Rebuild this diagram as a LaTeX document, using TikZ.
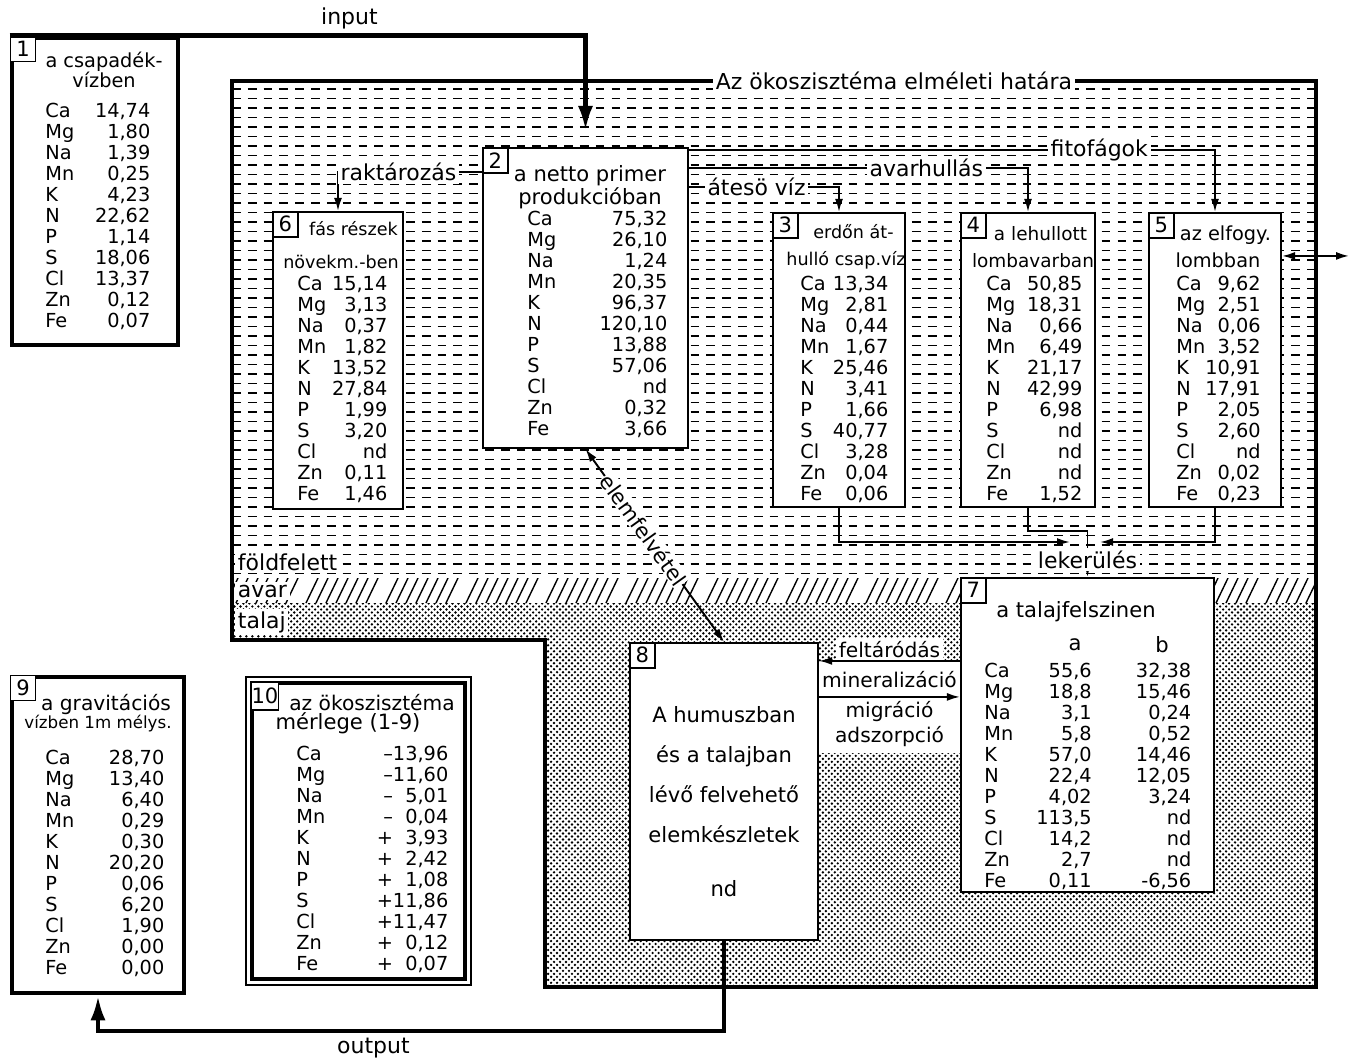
\documentclass[tikz,border=0pt]{standalone}
\usepackage{fontspec}
\setmainfont{DejaVu Sans}
\usepackage{tikz}
\usetikzlibrary{arrows.meta,positioning,fit,patterns,calc}
\newcommand{\ekoval}{\fontsize{11}{12}\selectfont}
\newcommand{\ekohead}{\fontsize{12}{13}\selectfont}
\newcommand{\ekolbl}{\fontsize{12.5}{14}\selectfont}
\newcommand{\ekorows}[2]{\begin{tabular*}{#1}{@{}l@{\extracolsep{\fill}}r@{}}#2\end{tabular*}}
\pgfdeclarepatternformonly{ekodots}{\pgfqpoint{-1pt}{-1pt}}{\pgfqpoint{4.4pt}{4.4pt}}{\pgfqpoint{3.4pt}{3.4pt}}{%
  \pgfpathcircle{\pgfqpoint{0.85pt}{0.85pt}}{0.75pt}%
  \pgfpathcircle{\pgfqpoint{2.55pt}{2.55pt}}{0.75pt}%
  \pgfusepath{fill}}
\tikzset{
  >={Latex[length=2.6mm,width=1.6mm]},
  ekobox/.style={draw,line width=1.2pt,fill=white,inner sep=0pt},
  ekoheavy/.style={ekobox,line width=2.6pt},
  ekonum/.style={draw,line width=.9pt,fill=white,inner sep=0pt,minimum width=5mm,minimum height=5mm,anchor=north west,font=\ekohead},
  ekottl/.style={align=center,font=\ekohead,inner sep=0pt},
  ekotab/.style={anchor=north west,inner sep=0pt,font=\ekoval},
  ekoflow/.style={->,line width=1.1pt},
  ekoboth/.style={<->,line width=1.1pt},
  ekobig/.style={-{Latex[length=5mm,width=3mm]},line width=2.6pt},
  ekolabel/.style={font=\ekolbl,fill=white,inner sep=1.5pt},
  ekodash/.style={line width=.6pt,dash pattern=on 5pt off 4pt},
}

\begin{document}
\begin{tikzpicture}[x=0.02cm,y=-0.02cm]
\useasboundingbox (0,0) rectangle (1350,1062);
% foldfelett
\begin{scope}
\clip (232,81) rectangle (1316,578);
\foreach \y in {89,98.5,...,574} \draw[ekodash] (232,\y) -- (1316,\y);
\end{scope}
% avar
\begin{scope}
\clip (232,578) rectangle (1316,603);
\foreach \g in {226,306,...,1316} \foreach \k in {0,10,...,60} \draw[line width=.8pt] (\g+\k,603) -- ++(12,-25);
\end{scope}
% talaj
\fill[pattern=ekodots] (232,603) -- (1316,603) -- (1316,987) -- (545,987) -- (545,640) -- (232,640) -- cycle;
\fill[white] (818,662) rectangle (961,753);
\draw[line width=2.3pt] (232,81) -- (1316,81) -- (1316,987) -- (545,987) -- (545,640) -- (232,640) -- cycle;
\node[ekolabel] (lim) at (894,81) {Az ökoszisztéma elméleti határa};
\node[ekolabel,anchor=west] (ff) at (235,562) {földfelett};
\node[ekolabel,anchor=west] (av) at (235,591) {avar};
\node[ekolabel,anchor=west] (tl) at (235,622) {talaj};

% boxes
\node[ekoheavy,fit={(12,38) (178,345)}] (b1) {};
\node[ekobox,fit={(483,148) (688,448)}] (b2) {};
\node[ekobox,fit={(773,213) (905,507)}] (b3) {};
\node[ekobox,fit={(961,213) (1095,507)}] (b4) {};
\node[ekobox,fit={(1149,213) (1281,507)}] (b5) {};
\node[ekobox,fit={(273,212) (403,509)}] (b6) {};
\node[ekobox,fit={(961,578) (1214,892)}] (b7) {};
\node[ekobox,fit={(630,643) (818,940)}] (b8) {};
\node[ekoheavy,fit={(12,677) (184,993)}] (b9) {};
\node[ekobox,line width=.6pt,fit={(246,677) (471,985)}] (b10o) {};
\node[ekoheavy,line width=1.8pt,fit={(252,683) (465,979)}] (b10) {};

\node[ekonum] (n1) at (b1.north west) {1};
\node[ekonum] (n2) at (b2.north west) {2};
\node[ekonum] (n3) at (b3.north west) {3};
\node[ekonum] (n4) at (b4.north west) {4};
\node[ekonum] (n5) at (b5.north west) {5};
\node[ekonum] (n6) at (b6.north west) {6};
\node[ekonum] (n7) at (b7.north west) {7};
\node[ekonum] (n8) at (b8.north west) {8};
\node[ekonum] (n9) at (b9.north west) {9};
\node[ekonum,minimum width=5.5mm,minimum height=5.5mm] (n10) at (b10.north west) {10};

% titles
\node[ekottl,font=\fontsize{11}{11.5}\selectfont] (h1) at (104,70) {a csapadék-\\vízben};
\node[ekottl] (h2) at (590,187) {a netto primer\\produkcióban};
\node[ekottl,font=\fontsize{10}{15.3}\selectfont] (h3) at (846,247) {\hspace*{3mm}erdőn át-\\hulló csap.víz};
\node[ekottl,font=\fontsize{10.5}{15.3}\selectfont] (h4) at (1033,247) {\hspace*{3mm}a lehullott\\lombavarban};
\node[ekottl,font=\fontsize{11}{15.3}\selectfont] (h5) at (1218,247) {\hspace*{3mm}az elfogy.\\lombban};
\node[ekottl,font=\fontsize{10}{19}\selectfont] (h6) at (341,245) {\hspace*{5mm}fás részek\\növekm.-ben};
\node[ekottl] (h7) at (1076,612) {a talajfelszinen};
\node[ekottl] (h7a) at (1075,645) {a};
\node[ekottl] (h7b) at (1162,645) {b};
\node[ekottl,font=\fontsize{12}{14}\selectfont,anchor=north] (h8) at (724,706) {A humuszban\\[8.7pt]és a talajban\\[8.7pt]lévő felvehető\\[8.7pt]elemkészletek\\[17pt]nd};
\node[ekottl,font=\fontsize{11.5}{12}\selectfont] (h9) at (106,705) {a gravitációs};
\node[ekottl,font=\fontsize{9.5}{10}\selectfont] (h9b) at (98,724) {vízben 1m mélys.};
\node[ekottl,font=\fontsize{11.5}{12}\selectfont] (h10) at (372,703) {az ökoszisztéma};
\node[ekottl] (h10b) at (348,723) {mérlege (1-9)};

% element tables
\node[ekotab] (t1) at (45,102) {\ekorows{2.1cm}{Ca&14,74\\Mg&1,80\\Na&1,39\\Mn&0,25\\K&4,23\\N&22,62\\P&1,14\\S&18,06\\Cl&13,37\\Zn&0,12\\Fe&0,07}};
\node[ekotab] (t2) at (527,210) {\ekorows{2.8cm}{Ca&75,32\\Mg&26,10\\Na&1,24\\Mn&20,35\\K&96,37\\N&120,10\\P&13,88\\S&57,06\\Cl&nd\\Zn&0,32\\Fe&3,66}};
\node[ekotab] (t6) at (297,275) {\ekorows{1.8cm}{Ca&15,14\\Mg&3,13\\Na&0,37\\Mn&1,82\\K&13,52\\N&27,84\\P&1,99\\S&3,20\\Cl&nd\\Zn&0,11\\Fe&1,46}};
\node[ekotab] (t3) at (800,275) {\ekorows{1.76cm}{Ca&13,34\\Mg&2,81\\Na&0,44\\Mn&1,67\\K&25,46\\N&3,41\\P&1,66\\S&40,77\\Cl&3,28\\Zn&0,04\\Fe&0,06}};
\node[ekotab] (t4) at (986,275) {\ekorows{1.92cm}{Ca&50,85\\Mg&18,31\\Na&0,66\\Mn&6,49\\K&21,17\\N&42,99\\P&6,98\\S&nd\\Cl&nd\\Zn&nd\\Fe&1,52}};
\node[ekotab] (t5) at (1176,275) {\ekorows{1.68cm}{Ca&9,62\\Mg&2,51\\Na&0,06\\Mn&3,52\\K&10,91\\N&17,91\\P&2,05\\S&2,60\\Cl&nd\\Zn&0,02\\Fe&0,23}};
\node[ekotab] (t7) at (984,662) {\begin{tabular*}{4.14cm}{@{}l@{\extracolsep{\fill}}rr@{}}Ca&55,6&32,38\\Mg&18,8&15,46\\Na&3,1&0,24\\Mn&5,8&0,52\\K&57,0&14,46\\N&22,4&12,05\\P&4,02&3,24\\S&113,5&nd\\Cl&14,2&nd\\Zn&2,7&nd\\Fe&0,11&-6,56\end{tabular*}};
\node[ekotab] (t9) at (45,749) {\ekorows{2.38cm}{Ca&28,70\\Mg&13,40\\Na&6,40\\Mn&0,29\\K&0,30\\N&20,20\\P&0,06\\S&6,20\\Cl&1,90\\Zn&0,00\\Fe&0,00}};
\node[ekotab] (t10) at (296,745) {\ekorows{3.04cm}{Ca&–13,96\\Mg&–11,60\\Na&–\hphantom{1}5,01\\Mn&–\hphantom{1}0,04\\K&+\hphantom{1}3,93\\N&+\hphantom{1}2,42\\P&+\hphantom{1}1,08\\S&+11,86\\Cl&+11,47\\Zn&+\hphantom{1}0,12\\Fe&+\hphantom{1}0,07}};

% flows
\draw[ekobig] (b1.north west) -| node[ekolabel,fill=none,pos=.295,above=1pt]{input} ([yshift=0.32cm]b2.north);
\draw[ekobig] (b8.south) -- ++(0,90) -| node[ekolabel,fill=none,pos=.28,below=1pt]{output} (b9.south);
\draw[ekoflow] ([yshift=-0.5cm]b2.north west) -| node[ekolabel,pos=.29]{raktározás} (b6.north);
\draw[ekoflow] ([yshift=-0.06cm]b2.north east) -| node[ekolabel,pos=.39]{fitofágok} (b5.north);
\draw[ekoflow] ([yshift=-0.42cm]b2.north east) -| node[ekolabel,pos=.35]{avarhullás} (b4.north);
\draw[ekoflow] ([yshift=-0.8cm]b2.north east) -| node[ekolabel,pos=.225]{átesö víz} (b3.north);
\draw[ekoboth] ([yshift=-0.88cm]b5.north east) -- ++(67,0);
\draw[ekoboth] (b2.south) -- node[ekolabel,sloped,pos=.42,inner sep=.5pt,font=\fontsize{12}{14}\selectfont]{elemfelvétel} (b8.north);
\coordinate (lk) at (1087,542);
\draw[ekoflow] (b3.south) |- ([xshift=-0.34cm]lk);
\draw[ekoflow] (b5.south) |- ([xshift=0.26cm]lk);
\draw[ekoflow] (b4.south) -- ++(0,23) -| node[ekolabel,pos=.81]{lekerülés} (b7.north);
\coordinate (fa) at ([yshift=-1.68cm]b7.north west);
\coordinate (fb) at ([yshift=-2.4cm]b7.north west);
\draw[ekoflow] (fa) -- node[ekolabel,above,font=\fontsize{11.5}{13}\selectfont]{feltáródás} (fa -| b8.east);
\draw[ekoflow] (fb -| b8.east) -- node[ekolabel,above=3pt,fill=none,font=\fontsize{11.5}{13}\selectfont]{mineralizáció} (fb);
\node[ekolabel,fill=none,align=center,below=1pt,font=\fontsize{11.5}{14}\selectfont] (mig) at ($(fb -| b8.east)!.5!(fb)$) {migráció\\adszorpció};
\end{tikzpicture}
\end{document}
